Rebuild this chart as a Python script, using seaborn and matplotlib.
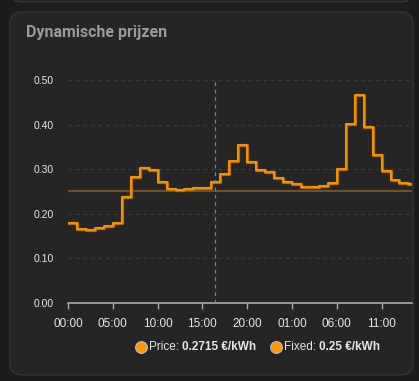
import numpy as np
import pandas as pd
import matplotlib
matplotlib.use("Agg")
import matplotlib.pyplot as plt
import seaborn as sns
from matplotlib.patches import FancyBboxPatch

# hourly prices (EUR/kWh), starting at 00:00 today
hours = list(range(39))
prices = [0.178, 0.166, 0.164, 0.167, 0.173, 0.180, 0.237, 0.283, 0.302, 0.299,
          0.270, 0.256, 0.253, 0.255, 0.257, 0.258, 0.2715, 0.290, 0.318, 0.353,
          0.316, 0.297, 0.293, 0.281, 0.272, 0.266, 0.259, 0.259, 0.262, 0.268,
          0.300, 0.402, 0.466, 0.395, 0.332, 0.295, 0.275, 0.269, 0.267]
fixed_price = 0.25
now_hour = 16.44
x_end = 38.4

tick_hours = [0, 5, 10, 15, 20, 25, 30, 35]
tick_labels = ["00:00", "05:00", "10:00", "15:00", "20:00", "01:00", "06:00", "11:00"]
y_ticks = [0.0, 0.1, 0.2, 0.3, 0.4, 0.5]

title = "Dynamische prijzen"
legend_names = ["Price: ", "Fixed: "]
legend_values = ["0.2715 €/kWh", "0.25 €/kWh"]

# repeat last value so the final step reaches the right edge
df = pd.DataFrame({"hour": hours + [hours[-1] + 1], "price": prices + [prices[-1]]})

sns.set_style("dark")
plt.rcParams["font.family"] = ["Liberation Sans", "DejaVu Sans"]

fig = plt.figure(figsize=(4.19, 3.81), dpi=100)
fig.patch.set_facecolor("#1c1c1c")

# card background
card = FancyBboxPatch((10 / 419, 6 / 381), 403 / 419, 363 / 381,
                      boxstyle="round,pad=0,rounding_size=0.03",
                      transform=fig.transFigure, facecolor="#252525",
                      edgecolor="#333333", linewidth=1, zorder=-2)
fig.patches.append(card)
top_card = FancyBboxPatch((10 / 419, 379 / 381), 403 / 419, 20 / 381,
                          boxstyle="round,pad=0,rounding_size=0.03",
                          transform=fig.transFigure, facecolor="#252525",
                          edgecolor="#333333", linewidth=1, zorder=-2)
fig.patches.append(top_card)

fig.text(26 / 419, 1 - 33 / 381, title, color="#9a9a9a", fontsize=11.5,
         fontweight="bold", family=["Roboto", "DejaVu Sans"], va="center", ha="left")

ax = fig.add_axes([68 / 419, 78.3 / 381, 344 / 419, 222.7 / 381])
ax.set_facecolor("none")

ax.axhline(fixed_price, color="#6e5226", lw=1.6, zorder=2)
sns.lineplot(data=df, x="hour", y="price", ax=ax, drawstyle="steps-post",
             color="#b86e00", lw=2.3, zorder=3)
sns.lineplot(data=df, x="hour", y="price", ax=ax, drawstyle="steps-post",
             color="#ff9800", lw=1.2, zorder=4)
ax.axvline(now_hour, color="#2a9fd6", lw=0.9, ls=(0, (3, 3)), zorder=5)

ax.set_xlim(0, x_end)
ax.set_ylim(0, 0.5)
ax.set_yticks(y_ticks)
ax.set_yticklabels([f"{v:.2f}" for v in y_ticks])
ax.set_xticks(tick_hours)
ax.set_xticklabels(tick_labels)
ax.set_xlabel("")
ax.set_ylabel("")
ax.grid(False)
for v in y_ticks[1:]:
    ax.axhline(v, color="#3a3a3a", lw=0.9, ls=(0, (3, 3)), zorder=1)

for s in ["top", "right", "left"]:
    ax.spines[s].set_visible(False)
ax.spines["bottom"].set_visible(True)
ax.spines["bottom"].set_color("#aaaaaa")
ax.spines["bottom"].set_linewidth(1.2)
ax.tick_params(axis="y", length=0, pad=10, labelsize=7.5, labelcolor="#e6e6e6")
ax.tick_params(axis="x", length=4, width=1, color="#aaaaaa", direction="out",
               pad=7, labelsize=8.5, labelcolor="#e6e6e6", bottom=True)

# legend
fig.canvas.draw()
renderer = fig.canvas.get_renderer()
legend_x = [141 / 419, 276 / 419]
leg_y = 1 - 347 / 381
for i in range(2):
    fig.lines.append(plt.Line2D([legend_x[i]], [leg_y], transform=fig.transFigure,
                                marker="o", markersize=8.5, markerfacecolor="#ff9800",
                                markeredgecolor="#bbbbbb", markeredgewidth=0.8, ls=""))
    t = fig.text(legend_x[i] + 8 / 419, leg_y, legend_names[i], color="#e6e6e6",
                 fontsize=8.5, va="center", ha="left")
    bb = t.get_window_extent(renderer)
    fig.text(bb.x1 / fig.bbox.width, leg_y, legend_values[i], color="#e6e6e6",
             fontsize=8.5, fontweight="bold", va="center", ha="left")

fig.savefig("out.png", dpi=100, facecolor=fig.get_facecolor())
